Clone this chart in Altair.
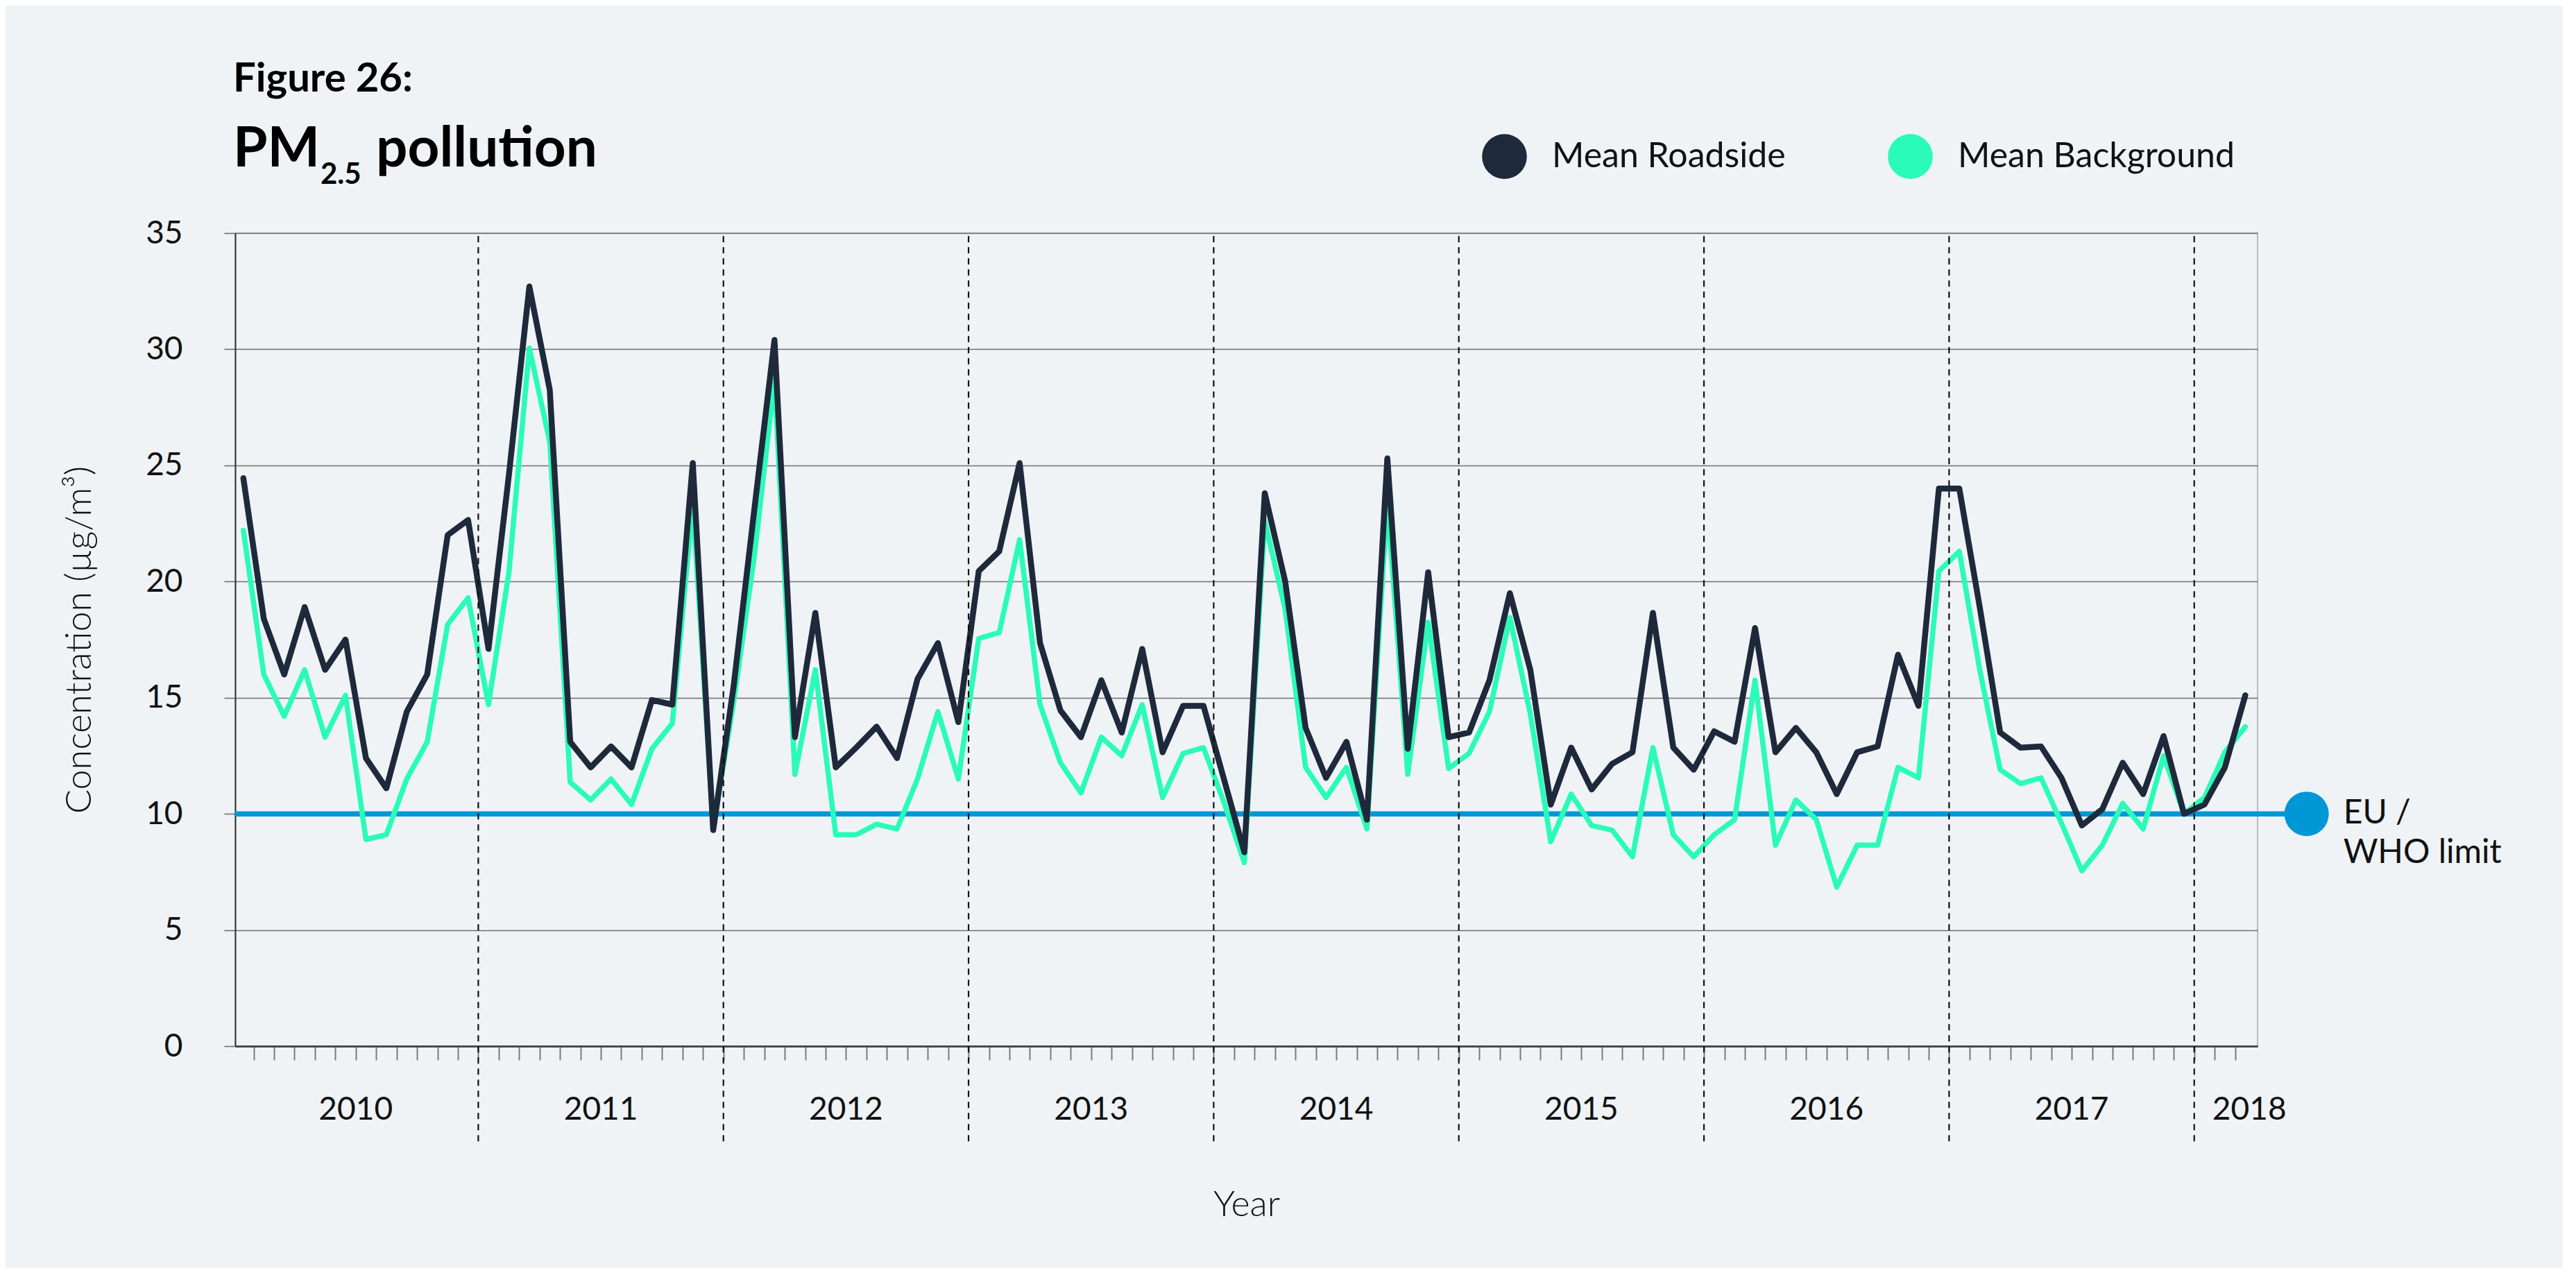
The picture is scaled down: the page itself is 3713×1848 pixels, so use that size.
import altair as alt
import pandas as pd

# ---------------- data ----------------
years = [2010, 2011, 2012, 2013, 2014, 2015, 2016, 2017, 2018]
months_per_year = [12, 12, 12, 12, 12, 12, 12, 12, 3]
series_names = ["Mean Roadside", "Mean Background"]

# monthly means, Jan 2010 .. Mar 2018 (µg/m³)
roadside = [
    24.45, 18.4, 16.0, 18.9, 16.2, 17.5, 12.4, 11.1, 14.4, 16.0, 22.0, 22.65,
    17.1, 24.6, 32.7, 28.25, 13.1, 12.0, 12.9, 12.0, 14.9, 14.7, 25.1, 9.3,
    15.5, 23.0, 30.4, 13.3, 18.65, 12.0, 12.85, 13.75, 12.4, 15.8, 17.35, 13.95,
    20.45, 21.3, 25.1, 17.35, 14.45, 13.3, 15.75, 13.5, 17.1, 12.65, 14.65, 14.65,
    11.5, 8.35, 23.8, 20.0, 13.7, 11.55, 13.1, 9.75, 25.3, 12.8, 20.4, 13.3,
    13.5, 15.75, 19.5, 16.2, 10.4, 12.85, 11.05, 12.15, 12.65, 18.65, 12.85, 11.9,
    13.55, 13.1, 18.0, 12.65, 13.7, 12.65, 10.85, 12.65, 12.9, 16.85, 14.65, 24.0,
    24.0, 18.9, 13.5, 12.85, 12.9, 11.55, 9.5, 10.2, 12.2, 10.85, 13.35, 10.0,
    10.4, 12.0, 15.1,
]
background = [
    22.2, 16.0, 14.2, 16.2, 13.3, 15.1, 8.9, 9.1, 11.5, 13.1, 18.15, 19.3,
    14.7, 20.4, 30.05, 26.0, 11.36, 10.6, 11.5, 10.4, 12.8, 13.9, 23.35, 9.4,
    14.8, 21.0, 28.7, 11.7, 16.2, 9.1, 9.1, 9.55, 9.35, 11.5, 14.4, 11.5,
    17.55, 17.8, 21.8, 14.7, 12.2, 10.9, 13.3, 12.5, 14.7, 10.7, 12.6, 12.85,
    10.5, 7.9, 22.6, 18.8, 12.0, 10.7, 12.0, 9.35, 23.5, 11.7, 18.25, 11.95,
    12.6, 14.4, 18.45, 14.3, 8.8, 10.85, 9.5, 9.3, 8.15, 12.85, 9.1, 8.15,
    9.1, 9.75, 15.75, 8.65, 10.6, 9.75, 6.85, 8.65, 8.65, 12.0, 11.55, 20.45,
    21.3, 16.2, 11.9, 11.3, 11.55, 9.6, 7.55, 8.65, 10.45, 9.35, 12.5, 10.0,
    10.7, 12.65, 13.75,
]
y_ticks = [0, 5, 10, 15, 20, 25, 30, 35]
limit_value = 10
limit_label = "EU /\nWHO limit"
year_label_x = [5.5, 17.5, 29.5, 41.5, 53.5, 65.5, 77.5, 89.5, 98.2]

fig_label = "Figure 26:"
title_main = "PM"
title_sub = "2.5"
title_rest = "pollution"

# ---------------- styles ----------------
DARK = "#1E2A3B"
MINT = "#2BFBB8"
BLUE = "#0097D7"
BG = "#EFF3F6"
FONT = "Lato"

n = len(roadside)
df = pd.DataFrame({
    "idx": list(range(n)) * 2,
    "value": roadside + background,
    "series": [series_names[0]] * n + [series_names[1]] * n,
})

# year dividers between December and January
starts = []
s = 0
for m in months_per_year:
    starts.append(s)
    s += m
div_df = pd.DataFrame({"x": [st - 0.5 for st in starts[1:]], "y0": -4.1, "y1": 35})
year_df = pd.DataFrame({"x": year_label_x, "y": -2.75, "label": [str(y) for y in years]})
limit_df = pd.DataFrame({"x": [-0.4, 101], "y": [limit_value, limit_value]})
dot_df = pd.DataFrame({"x": [101], "y": [limit_value]})
lab_df = pd.DataFrame({"x": [102.8], "y": [limit_value], "t": [limit_label]})

x_scale = alt.Scale(domain=[-0.4, 98.6], nice=False, zero=False)
y_scale = alt.Scale(domain=[0, 35], nice=False, zero=True)
color_scale = alt.Scale(domain=series_names, range=[DARK, MINT])

x_axis = alt.Axis(
    values=[i + 0.5 for i in range(n - 1)], labels=False, grid=False,
    tickSize=20, tickColor="#7a7a7a", tickWidth=2,
    domainColor="#4a4a4a", domainWidth=3,
    title="Year", titleFont=FONT, titleFontSize=52, titleFontWeight=300,
    titleColor="#111", titleX=1457.5, titleY=228, titleBaseline="middle",
)
y_axis = alt.Axis(
    values=y_ticks, grid=True, gridColor="#6f6f6f", gridWidth=1.6,
    tickSize=16, tickColor="#6f6f6f", tickWidth=1.6,
    domainColor="#333", domainWidth=2,
    labelFont=FONT, labelFontSize=46, labelColor="#111", labelPadding=60,
    title="Concentration (µg/m³)", titleFont=FONT, titleFontSize=52,
    titleFontWeight=300, titleColor="#111", titleX=-225, titleY=586,
    titleBaseline="middle",
)
legend = alt.Legend(
    orient="none", legendX=1797, legendY=-143, direction="horizontal",
    title=None, symbolType="circle", symbolSize=4185, symbolStrokeWidth=0,
    symbolOpacity=1,
    labelFont=FONT, labelFontSize=50, labelColor="#111", labelOffset=36,
    labelLimit=0, columnPadding=147,
)


def xq(field):
    return alt.X(field, scale=x_scale, axis=x_axis)


def yq(field):
    return alt.Y(field, scale=y_scale, axis=y_axis)


limit_line = alt.Chart(limit_df).mark_line(color=BLUE, strokeWidth=7.5).encode(
    x=xq("x:Q"), y=yq("y:Q"),
)
limit_dot = alt.Chart(dot_df).mark_circle(color=BLUE, size=4100, opacity=1).encode(
    x=xq("x:Q"), y=yq("y:Q"),
)
bg_line = alt.Chart(df).transform_filter(
    alt.datum.series == series_names[1]
).mark_line(color=MINT, strokeWidth=7.5, strokeJoin="round", strokeCap="round").encode(
    x=xq("idx:Q"), y=yq("value:Q"),
)
rd_line = alt.Chart(df).transform_filter(
    alt.datum.series == series_names[0]
).mark_line(color=DARK, strokeWidth=8.5, strokeJoin="round", strokeCap="round").encode(
    x=xq("idx:Q"), y=yq("value:Q"),
)
# zero-size points that only carry the colour legend
legend_pts = alt.Chart(df).mark_circle(size=0, opacity=1).encode(
    x=xq("idx:Q"), y=yq("value:Q"),
    color=alt.Color("series:N", scale=color_scale, legend=legend),
)
dividers = alt.Chart(div_df).mark_rule(color="#111", strokeWidth=2.2, strokeDash=[9, 7]).encode(
    x=xq("x:Q"), y=yq("y0:Q"), y2="y1:Q",
)
year_text = alt.Chart(year_df).mark_text(
    font=FONT, fontSize=46, color="#111", align="center", baseline="middle"
).encode(
    x=xq("x:Q"), y=yq("y:Q"), text="label:N",
)
limit_text = alt.Chart(lab_df).mark_text(
    font=FONT, fontSize=48, color="#111", align="left", baseline="middle",
    lineBreak="\n", lineHeight=57,
).encode(
    x=xq("x:Q"), y=yq("y:Q"), text="t:N",
)


def title_piece(txt, size, px, py):
    return alt.Chart(pd.DataFrame({"t": [txt]})).mark_text(
        font=FONT, fontSize=size, fontWeight="bold", color="#000",
        align="left", baseline="alphabetic",
    ).encode(x=alt.value(px), y=alt.value(py), text="t:N")


t_fig = title_piece(fig_label, 58, -3, -204)
t_pm = title_piece(title_main, 80, -3, -96)
t_sub = title_piece(title_sub, 42, 123, -71)
t_rest = title_piece(title_rest, 80, 203, -96)

chart = alt.layer(
    limit_line, limit_dot, bg_line, rd_line, legend_pts, dividers, year_text,
    limit_text, t_fig, t_pm, t_sub, t_rest,
).properties(
    width=2915, height=1172,
    padding={"left": 331, "top": 328, "right": 440, "bottom": 320},
    autosize=alt.AutoSizeParams(type="none"),
    background=BG,
).configure_view(stroke="#A6A6A6", strokeWidth=1.5)

chart.save("out.html", embed_options={"renderer": "svg", "actions": False})
